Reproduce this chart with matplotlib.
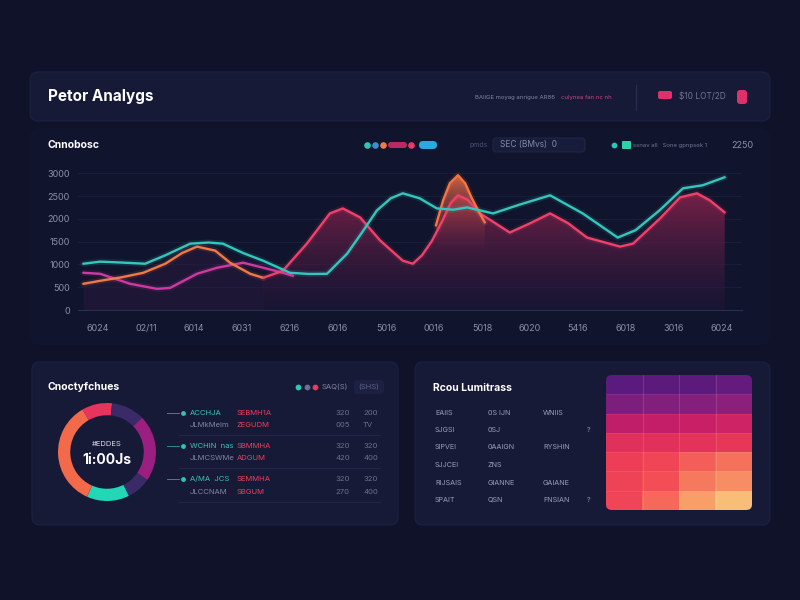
#!/usr/bin/env python3
"""
Dark analytics dashboard: line chart, donut and heatmap panels
"""

import numpy as np
import matplotlib
matplotlib.use("Agg")
import matplotlib.pyplot as plt
from matplotlib.patches import FancyBboxPatch
from matplotlib.colors import LinearSegmentedColormap

plt.rcParams['font.family'] = ['Inter', 'DejaVu Sans']

# ---- line chart data (x = period index, y = value) ----
x_labels = ["6024", "02/11", "6014", "6031", "6216", "6016", "5016",
            "0016", "5018", "6020", "5416", "6018", "3016", "6024"]
y_ticks = [0, 500, 1000, 1500, 2000, 2500, 3000]

teal_x = [-0.31, 0.04, 0.5, 0.98, 1.4, 1.92, 2.3, 2.6, 3.02, 3.44, 4.0, 4.4,
          4.77, 5.19, 5.5, 5.81, 6.1, 6.35, 6.7, 7.06, 7.4, 7.69, 8.23, 8.8,
          9.42, 10.1, 10.83, 11.2, 11.7, 12.19, 12.6, 13.06]
teal_y = [1015, 1060, 1040, 1015, 1200, 1455, 1480, 1455, 1250, 1080, 816, 790,
          794, 1235, 1700, 2184, 2450, 2559, 2450, 2228, 2200, 2250, 2118, 2316,
          2515, 2118, 1588, 1750, 2184, 2669, 2735, 2912]

red_x = [3.44, 3.85, 4.35, 4.83, 5.10, 5.46, 5.88, 6.35, 6.56, 6.75, 6.96,
         7.17, 7.35, 7.5, 7.7, 7.96, 8.58, 9.0, 9.42, 9.8, 10.19, 10.88,
         11.15, 11.71, 12.13, 12.48, 12.75, 13.06]
red_y = [706, 860, 1456, 2118, 2228, 2030, 1522, 1081, 1015, 1200, 1520,
         1950, 2350, 2515, 2420, 2118, 1699, 1900, 2118, 1900, 1588, 1390,
         1456, 2007, 2471, 2559, 2405, 2140]

orange_x = [-0.31, 0.04, 0.5, 0.94, 1.4, 1.75, 2.06, 2.44, 2.75, 3.17, 3.44]
orange_y = [574, 640, 720, 816, 1015, 1250, 1390, 1302, 1037, 794, 706]

spike_x = [7.04, 7.19, 7.33, 7.5, 7.65, 7.79, 7.92, 8.06]
spike_y = [1853, 2404, 2780, 2956, 2780, 2449, 2184, 1919]

mag_x = [-0.31, 0.04, 0.67, 1.23, 1.5, 2.06, 2.48, 3.02, 3.44, 3.85, 4.06]
mag_y = [816, 794, 574, 463, 485, 794, 927, 1037, 927, 816, 750]

# ---- donut data ----
donut_values = [10, 11, 22, 8, 14, 35]
donut_colors = ['#e8345c', '#3a2a68', '#9a1f80', '#3a2a68', '#22d6b6', '#f26a4a']

# ---- table rows beside the donut ----
table_left = ["ACCHJA", "JLMkMeim", "WCHIN  nas", "JLMCSWMe", "A/MA  JCS", "JLCCNAM"]
table_red = ["SEBMH1A", "ZEGUDM", "SBMMHA", "ADGUM", "SEMMHA", "SBGUM"]
table_n1 = ["320", "005", "320", "420", "320", "270"]
table_n2 = ["200", "TV", "320", "400", "320", "400"]

# ---- heatmap data ----
heat_values = [
    [0.02, 0.03, 0.03, 0.06],
    [0.15, 0.17, 0.18, 0.21],
    [0.36, 0.37, 0.39, 0.42],
    [0.52, 0.53, 0.55, 0.57],
    [0.62, 0.65, 0.73, 0.77],
    [0.64, 0.69, 0.79, 0.84],
    [0.65, 0.75, 0.89, 0.98],
]
heat_text = [
    ["EAIIS", "0S IJN", "WNIIS", ""],
    ["SJGSI", "0SJ", "", "?"],
    ["SIPVEI", "0AAIGN", "RYSHIN", ""],
    ["SJJCEI", "ZNS", "", ""],
    ["RIJSAIS", "GIANNE", "GAIANE", ""],
    ["SPAIT", "QSN", "FNSIAN", "?"],
]

BG = '#0f1229'
PANEL = '#161a36'
GREY = '#8b90aa'
W, H = 800, 600

fig = plt.figure(figsize=(8, 6), dpi=100, facecolor=BG)
bg = fig.add_axes([0, 0, 1, 1])
bg.set_xlim(0, W)
bg.set_ylim(H, 0)
bg.axis('off')


def px_axes(x0, y0, x1, y1):
    return fig.add_axes([x0 / W, 1 - y1 / H, (x1 - x0) / W, (y1 - y0) / H])


def panel(x0, y0, x1, y1, color=PANEL, r=8, edge='#1c2142'):
    bg.add_patch(FancyBboxPatch((x0, y0), x1 - x0, y1 - y0,
                                boxstyle=f"round,pad=0,rounding_size={r}",
                                fc=color, ec=edge, lw=0.8))


def dot(x, y, c, s=14):
    bg.scatter([x], [y], s=s, color=c, zorder=5)


# header
panel(30, 72, 770, 121)
bg.text(48, 97, "Petor Analygs", color='white', fontsize=11, fontweight='bold', va='center')
bg.text(475, 97, "BAIIGE moyag anrigue AR86", color='#7f85a3', fontsize=4.3, va='center')
bg.text(561, 97, "culynea fan nc nh", color='#c4487e', fontsize=4.3, va='center')
bg.plot([636, 636], [85, 110], color='#2a2f50', lw=0.8)
bg.add_patch(FancyBboxPatch((658, 91), 14, 8, boxstyle="round,pad=0,rounding_size=2",
                            fc='#e0306a', ec='none'))
bg.text(679, 96, "$10 LOT/2D", color='#6f7593', fontsize=6, va='center')
bg.add_patch(FancyBboxPatch((737, 90), 10, 14, boxstyle="round,pad=0,rounding_size=3",
                            fc='#e0306a', ec='none'))

# main chart area
panel(30, 128, 770, 345, color='#10142c', edge='none')
bg.text(48, 145, "Cnnobosc", color='white', fontsize=7.5, fontweight='bold', va='center')
dot(367, 145, '#2ec4b6')
dot(375, 145, '#3a8fd0')
dot(383, 145, '#f07a48')
bg.add_patch(FancyBboxPatch((388, 142), 19, 6, boxstyle="round,pad=0,rounding_size=3",
                            fc='#b82a60', ec='none'))
dot(411, 145, '#e83a6a')
bg.add_patch(FancyBboxPatch((419, 141), 18, 8, boxstyle="round,pad=0,rounding_size=4",
                            fc='#2aa8e0', ec='none'))
bg.text(470, 145, "pmds", color='#4a5070', fontsize=5, va='center')
bg.add_patch(FancyBboxPatch((493, 138), 92, 14, boxstyle="round,pad=0,rounding_size=3",
                            fc='#171c3a', ec='#252a4a', lw=0.6))
bg.text(500, 145, "SEC (BMvs)  0", color='#858ba6', fontsize=6, va='center')
dot(614, 145, '#2ec4b6', s=10)
bg.add_patch(FancyBboxPatch((622, 141), 9, 8, boxstyle="round,pad=0,rounding_size=1",
                            fc='#2ad4a8', ec='none'))
bg.text(633, 145, "ssnav all   Sone gpnpsek 1", color='#6f7593', fontsize=4.3, va='center')
bg.text(731, 145, "2250", color='#8b90aa', fontsize=6.5, va='center')

ax = px_axes(78, 165, 742, 310)
ax.set_facecolor('none')

# gradient fill under the red line
red_fill = ax.fill_between(red_x, red_y, 0, color='none', lw=0)
fill_cmap = LinearSegmentedColormap.from_list(
    'fill', [(0.16, 0.09, 0.24, 0.35), (0.55, 0.14, 0.30, 0.85)])
grad = ax.imshow(np.linspace(1, 0, 256).reshape(-1, 1), cmap=fill_cmap, aspect='auto',
                 extent=[-0.5, 13.5, 0, 2600], origin='upper', zorder=1)
grad.set_clip_path(red_fill.get_paths()[0], transform=ax.transData)

spike_fill = ax.fill_between(spike_x, spike_y, 0, color='none', lw=0)
spike_cmap = LinearSegmentedColormap.from_list(
    'spike', [(0.4, 0.15, 0.25, 0.0), (0.95, 0.45, 0.28, 0.9)])
sg = ax.imshow(np.linspace(1, 0, 256).reshape(-1, 1), cmap=spike_cmap, aspect='auto',
               extent=[-0.5, 13.5, 1200, 3000], origin='upper', zorder=1.5)
sg.set_clip_path(spike_fill.get_paths()[0], transform=ax.transData)

ax.fill_between(orange_x, orange_y, 0, color='#3a1a48', alpha=0.35, lw=0, zorder=1)

series = [(mag_x, mag_y, '#cf3aa0'), (orange_x, orange_y, '#f07a48'),
          (red_x, red_y, '#f0416a'), (spike_x, spike_y, '#f5743f'),
          (teal_x, teal_y, '#33c7bd')]
for xs, ys, c in series:
    ax.plot(xs, ys, color=c, lw=4.5, alpha=0.12, zorder=3, solid_capstyle='round')
    ax.plot(xs, ys, color=c, lw=1.7, zorder=4, solid_capstyle='round',
            solid_joinstyle='round')

ax.set_xlim(-0.42, 13.42)
ax.set_ylim(0, 3180)
ax.set_xticks(range(len(x_labels)))
ax.set_xticklabels(x_labels)
ax.set_yticks(y_ticks)
ax.set_yticklabels([str(v) for v in y_ticks])
ax.tick_params(colors=GREY, labelsize=6.5, length=0)
ax.tick_params(axis='x', pad=10)
ax.tick_params(axis='y', pad=6)
ax.grid(axis='y', color='#1a1f3e', lw=0.6)
for side in ['top', 'right', 'left']:
    ax.spines[side].set_visible(False)
ax.spines['bottom'].set_color('#2a2f50')
ax.set_axisbelow(True)

# donut panel
panel(32, 362, 398, 525)
bg.text(48, 387, "Cnoctyfchues", color='white', fontsize=7.5, fontweight='bold', va='center')
dot(298, 387, '#2ec4b6', s=10)
dot(307, 387, '#6a7090', s=10)
dot(315, 387, '#e83a5c', s=10)
bg.text(322, 387, "SAQ(S)", color='#7f85a3', fontsize=5.5, va='center')
bg.add_patch(FancyBboxPatch((354, 380), 30, 14, boxstyle="round,pad=0,rounding_size=3",
                            fc='#1c2142', ec='none'))
bg.text(369, 387, "(SHS)", color='#5c6282', fontsize=5.5, va='center', ha='center')

dax = px_axes(58, 403, 156, 501)
dax.pie(donut_values, colors=donut_colors, startangle=120, counterclock=False,
        wedgeprops=dict(width=0.25, edgecolor='none'))
dax.set_xlim(-1, 1)
dax.set_ylim(-1, 1)
dax.set_aspect('equal')
dax.axis('off')
bg.text(107, 444, "#EDDES", color='#d8dbe8', fontsize=5.5, ha='center', va='center')
bg.text(107, 460, "1i:00Js", color='white', fontsize=10, fontweight='bold',
        ha='center', va='center')

row_y = [413, 425, 446, 458, 479, 492]
for i, y in enumerate(row_y):
    first = i % 2 == 0
    bg.text(190, y, table_left[i], color='#3fc2b4' if first else '#7f85a3',
            fontsize=5.5, va='center')
    bg.text(237, y, table_red[i], color='#e8405a', fontsize=5.5, va='center')
    bg.text(335, y, table_n1[i], color='#6a7090', fontsize=5.5, va='center')
    bg.text(363, y, table_n2[i], color='#6a7090', fontsize=5.5, va='center')
    if first:
        bg.plot([167, 179], [y, y], color='#2f8a88', lw=0.7)
        dot(183, y, '#2ec4b6', s=6)
for y in [435, 468, 502]:
    bg.plot([178, 380], [y, y], color='#222747', lw=0.7)

# heatmap panel
panel(415, 362, 770, 525)
bg.text(433, 388, "Rcou Lumitrass", color='white', fontsize=7.5, fontweight='bold', va='center')
text_y = [413, 430, 447, 465, 483, 500]
text_x = [435, 488, 543, 587]
for r, y in enumerate(text_y):
    for c, x in enumerate(text_x):
        bg.text(x, y, heat_text[r][c], color='#9a9fb8', fontsize=5.2, va='center')

heat_cmap = LinearSegmentedColormap.from_list(
    'heat', [(0.0, '#561a7e'), (0.2, '#8a207c'), (0.38, '#c81e68'),
             (0.55, '#e5345a'), (0.68, '#f34a55'), (0.82, '#f7855f'), (1.0, '#f9c67a')])
hax = px_axes(606, 375, 752, 510)
im = hax.imshow(np.array(heat_values), cmap=heat_cmap, vmin=0, vmax=1, aspect='auto')
clip = FancyBboxPatch((0, 0), 1, 1, boxstyle="round,pad=0,rounding_size=0.04",
                      transform=hax.transAxes, fc='none', ec='none')
hax.add_patch(clip)
im.set_clip_path(clip)
for k in range(1, 4):
    hax.axvline(k - 0.5, color='white', alpha=0.15, lw=0.6)
for k in range(1, 7):
    hax.axhline(k - 0.5, color='white', alpha=0.08, lw=0.6)
hax.axis('off')

plt.savefig('out.png', dpi=100, facecolor=BG)
